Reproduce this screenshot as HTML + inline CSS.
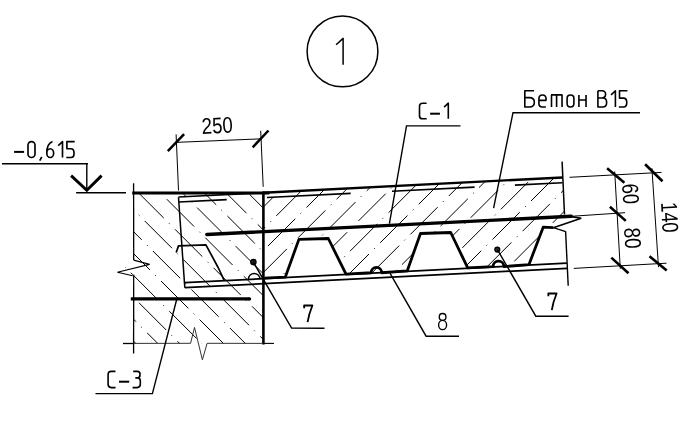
<!DOCTYPE html>
<html><head><meta charset="utf-8"><style>
html,body{margin:0;padding:0;background:#fff;width:697px;height:424px;overflow:hidden}
svg{display:block;will-change:transform}
text{font-family:"Liberation Sans",sans-serif}
</style></head><body>
<svg width="697" height="424" viewBox="0 0 697 424">
<defs><clipPath id="cw"><polygon points="133.6,193 263.4,193 263.4,343.4 133.6,343.4 133.6,275 117,272 133.6,262"/></clipPath><clipPath id="cs"><polygon points="263.40,192.70 563.00,177.45 564.20,214.50 581.00,218.20 553.30,227.70 543.20,227.20 528.90,263.50 467.40,267.40 450.70,232.50 420.50,233.50 407.20,270.20 346.00,274.20 328.30,238.50 298.90,239.40 285.30,276.20 263.40,277.50"/></clipPath></defs>
<rect width="697" height="424" fill="#fff"/>
<g clip-path="url(#cw)" stroke="#000" stroke-width="1.0" stroke-dasharray="38.61 7.42 1.0 7.42"><line x1="109.40" y1="-11.50" x2="417.40" y2="296.50"/><line x1="79.10" y1="-19.90" x2="387.10" y2="288.10"/><line x1="87.30" y1="10.20" x2="395.30" y2="318.20"/><line x1="95.50" y1="40.30" x2="403.50" y2="348.30"/><line x1="103.70" y1="70.40" x2="411.70" y2="378.40"/><line x1="111.90" y1="100.50" x2="419.90" y2="408.50"/><line x1="81.60" y1="92.10" x2="389.60" y2="400.10"/><line x1="89.80" y1="122.20" x2="397.80" y2="430.20"/><line x1="98.00" y1="152.30" x2="406.00" y2="460.30"/><line x1="106.20" y1="182.40" x2="414.20" y2="490.40"/><line x1="114.40" y1="212.50" x2="422.40" y2="520.50"/><line x1="84.10" y1="204.10" x2="392.10" y2="512.10"/><line x1="92.30" y1="234.20" x2="400.30" y2="542.20"/><line x1="100.50" y1="264.30" x2="408.50" y2="572.30"/><line x1="108.70" y1="294.40" x2="416.70" y2="602.40"/><line x1="78.40" y1="286.00" x2="386.40" y2="594.00"/><line x1="86.60" y1="316.10" x2="394.60" y2="624.10"/><line x1="94.80" y1="346.20" x2="402.80" y2="654.20"/></g>
<g clip-path="url(#cs)" stroke="#000" stroke-width="1.0" stroke-dasharray="38.61 7.42 1.0 7.42"><line x1="224.35" y1="202.45" x2="686.35" y2="-259.55"/><line x1="216.00" y1="232.60" x2="678.00" y2="-229.40"/><line x1="207.65" y1="262.75" x2="669.65" y2="-199.25"/><line x1="199.30" y1="292.90" x2="661.30" y2="-169.10"/><line x1="229.45" y1="284.55" x2="691.45" y2="-177.45"/><line x1="221.10" y1="314.70" x2="683.10" y2="-147.30"/><line x1="212.75" y1="344.85" x2="674.75" y2="-117.15"/><line x1="204.40" y1="375.00" x2="666.40" y2="-87.00"/><line x1="196.05" y1="405.15" x2="658.05" y2="-56.85"/><line x1="226.20" y1="396.80" x2="688.20" y2="-65.20"/><line x1="217.85" y1="426.95" x2="679.85" y2="-35.05"/><line x1="209.50" y1="457.10" x2="671.50" y2="-4.90"/><line x1="201.15" y1="487.25" x2="663.15" y2="25.25"/><line x1="192.80" y1="517.40" x2="654.80" y2="55.40"/><line x1="222.95" y1="509.05" x2="684.95" y2="47.05"/><line x1="214.60" y1="539.20" x2="676.60" y2="77.20"/><line x1="206.25" y1="569.35" x2="668.25" y2="107.35"/><line x1="197.90" y1="599.50" x2="659.90" y2="137.50"/><line x1="228.05" y1="591.15" x2="690.05" y2="129.15"/><line x1="219.70" y1="621.30" x2="681.70" y2="159.30"/></g>
<g stroke="#000" fill="none" stroke-linecap="butt">
<circle cx="342.5" cy="51.4" r="35.4" fill="none" stroke-width="1.5"/>
<polyline points="336.10,44.80 343.10,38.40 343.10,64.80" stroke-width="1.5" fill="none" stroke-linejoin="round"/>
<line x1="2.00" y1="163.70" x2="88.00" y2="163.70" stroke-width="1.6" />
<line x1="86.80" y1="163.70" x2="86.80" y2="190.50" stroke-width="1.4" />
<polyline points="71.10,175.60 86.80,190.20 101.60,175.60" stroke-width="2.9" fill="none" />
<line x1="76.10" y1="192.80" x2="126.00" y2="192.80" stroke-width="1.6" />
<line x1="175.60" y1="142.40" x2="262.00" y2="138.80" stroke-width="1.0" />
<line x1="176.10" y1="134.40" x2="178.50" y2="190.50" stroke-width="1.0" />
<line x1="260.70" y1="130.70" x2="263.20" y2="186.80" stroke-width="1.0" />
<line x1="167.80" y1="151.20" x2="184.10" y2="134.20" stroke-width="2.5" />
<line x1="252.70" y1="147.30" x2="268.50" y2="130.50" stroke-width="2.5" />
<line x1="132.20" y1="193.00" x2="269.50" y2="193.00" stroke-width="3.2" />
<line x1="133.60" y1="183.20" x2="133.70" y2="260.10" stroke-width="1.3" />
<polyline points="133.70,260.10 149.60,264.40 117.40,272.30 132.70,275.70" stroke-width="1.1" fill="none" />
<line x1="133.70" y1="274.80" x2="133.60" y2="353.60" stroke-width="1.3" />
<line x1="263.40" y1="191.50" x2="263.40" y2="344.50" stroke-width="2.6" />
<line x1="123.00" y1="343.50" x2="133.60" y2="343.50" stroke-width="1.3" />
<polyline points="133.60,343.40 190.60,343.30 194.50,327.40 202.40,359.80 207.10,343.30 263.00,343.40" stroke-width="1.0" fill="none" stroke="#333"/>
<line x1="263.00" y1="343.40" x2="274.00" y2="343.40" stroke-width="1.1" />
<line x1="130.80" y1="298.90" x2="249.50" y2="298.90" stroke-width="3.4" />
<circle cx="249.5" cy="298.9" r="1.7" fill="#000" stroke="none"/>
<line x1="178.50" y1="197.02" x2="263.40" y2="192.70" stroke-width="1.6" />
<line x1="178.50" y1="197.20" x2="184.80" y2="287.70" stroke-width="1.5" />
<line x1="179.00" y1="201.99" x2="226.70" y2="199.59" stroke-width="1.6" />
<line x1="266.90" y1="197.56" x2="350.70" y2="193.35" stroke-width="1.6" />
<line x1="392.00" y1="191.27" x2="474.60" y2="187.12" stroke-width="1.6" />
<line x1="514.90" y1="185.09" x2="562.40" y2="182.70" stroke-width="1.6" />
<polyline points="176.20,252.50 178.50,245.90 205.90,244.80 218.40,268.00 224.30,280.67" stroke-width="1.7" fill="none" stroke-linejoin="round"/>
<path d="M248.50,279.14 a5.7,5.7 0 0 1 11.4,0" stroke-width="1.4" fill="none" />
<circle cx="253.4" cy="262.1" r="2.6" fill="#222" stroke="#000" stroke-width="1.4"/>
<line x1="263.40" y1="192.70" x2="562.50" y2="177.48" stroke-width="2.4" />
<line x1="562.10" y1="161.60" x2="564.50" y2="214.50" stroke-width="1.5" />
<line x1="206.80" y1="234.50" x2="571.30" y2="216.28" stroke-width="3.4" stroke-linecap="round"/>
<line x1="184.80" y1="282.69" x2="566.80" y2="263.17" stroke-width="1.7" />
<line x1="184.80" y1="287.70" x2="567.00" y2="268.29" stroke-width="1.7" />
<line x1="565.60" y1="231.40" x2="568.20" y2="285.70" stroke-width="1.4" />
<polyline points="571.30,216.60 581.20,218.20 553.30,227.70" stroke-width="1.6" fill="none" />
<line x1="553.30" y1="227.70" x2="565.70" y2="231.60" stroke-width="1.4" />
<path d="M264.40,278.22 L285.30,277.15 L298.90,239.40 L328.30,238.50 L346.00,274.05 L371.10,272.77 a5.3,5.3 0 0 1 10.6,0 L407.20,270.92 L420.50,233.50 L450.70,232.50 L467.70,267.83 L493.10,266.53 a5.4,5.4 0 0 1 10.8,0 L528.90,264.70 L543.20,227.20 L553.30,227.70" stroke-width="2.8" fill="none" stroke-linejoin="round"/>
<circle cx="497.3" cy="249.6" r="2.4" fill="#333" stroke="#000" stroke-width="1.4"/>
<polyline points="460.50,125.90 406.50,125.90 389.40,223.70" stroke-width="1.4" fill="none" />
<polyline points="640.00,112.70 513.00,112.70 493.60,208.20" stroke-width="1.4" fill="none" />
<polyline points="253.40,262.20 291.60,328.10 324.50,328.30" stroke-width="1.4" fill="none" />
<polyline points="390.10,273.40 426.10,336.20 459.00,336.20" stroke-width="1.4" fill="none" />
<polyline points="497.40,249.60 535.80,316.20 568.60,316.20" stroke-width="1.4" fill="none" />
<polyline points="176.80,299.00 152.40,393.60 95.50,393.60" stroke-width="1.4" fill="none" />
<line x1="569.50" y1="177.30" x2="661.50" y2="172.40" stroke-width="1.0" />
<line x1="571.30" y1="216.30" x2="625.00" y2="212.70" stroke-width="1.0" />
<line x1="573.80" y1="268.40" x2="666.50" y2="263.20" stroke-width="1.0" />
<line x1="614.70" y1="171.50" x2="620.30" y2="268.80" stroke-width="1.0" />
<line x1="651.90" y1="168.20" x2="658.50" y2="267.20" stroke-width="1.0" />
<line x1="607.10" y1="168.30" x2="624.40" y2="182.80" stroke-width="2.6" />
<line x1="609.90" y1="206.70" x2="625.80" y2="220.90" stroke-width="2.6" />
<line x1="611.30" y1="257.60" x2="628.50" y2="273.20" stroke-width="2.6" />
<line x1="645.10" y1="164.20" x2="662.50" y2="181.20" stroke-width="2.6" />
<line x1="649.50" y1="256.20" x2="666.70" y2="270.50" stroke-width="2.6" />
</g>
<g fill="#000">
<text x="202" y="134.1" font-size="22.6" font-family="Liberation Sans" textLength="31.2" lengthAdjust="spacingAndGlyphs" transform="rotate(-2.9 202 134.1)" opacity="0.999">250</text>
<text x="622.1" y="184.1" font-size="23" font-family="Liberation Sans" textLength="20.5" lengthAdjust="spacingAndGlyphs" transform="rotate(87 622.1 184.1)" opacity="0.999">60</text>
<text x="624.1" y="227.9" font-size="23" font-family="Liberation Sans" textLength="21" lengthAdjust="spacingAndGlyphs" transform="rotate(87 624.1 227.9)" opacity="0.999">80</text>
<text x="660.9" y="202.5" font-size="23" font-family="Liberation Sans" textLength="30.5" lengthAdjust="spacingAndGlyphs" transform="rotate(87 660.9 202.5)" opacity="0.999">140</text>
</g>
<g stroke="#000" fill="none" stroke-linejoin="round"><g role="img" aria-label="–0,615">
<path d="M0,0 H6.3" transform="translate(14.10,151.90) scale(1.59)" stroke-width="1.258" fill="none"/>
<path d="M0,2.2 A2.2,2.2 0 0 1 4.4,2.2 V7.8 A2.2,2.2 0 0 1 0,7.8 Z" transform="translate(28.00,141.60) scale(1.59)" stroke-width="1.038" fill="none"/>
<path d="M1.3,0 L0,2.3" transform="translate(39.70,157.00) scale(1.59)" stroke-width="1.038" fill="none"/>
<path d="M3.6,0 C1.5,0.8 0,3 0,7.2 M0,7.25 A2.15,2.75 0 0 0 4.3,7.25 A2.15,2.75 0 0 0 0,7.25" transform="translate(46.80,141.60) scale(1.59)" stroke-width="1.038" fill="none"/>
<path d="M-2.7,2.5 L0,0 V10" transform="translate(62.50,141.60) scale(1.59)" stroke-width="1.038" fill="none"/>
<path d="M4.9,0 H0 V4.5 H2.5 Q4.5,4.5 4.5,7.25 Q4.5,10 2.5,10 H-0.4" transform="translate(66.90,141.60) scale(1.59)" stroke-width="1.038" fill="none"/>
</g>
<g role="img" aria-label="С–1">
<path d="M4.55,0 H2 Q0,0 0,2 V8 Q0,10 2,10 H4.6" transform="translate(419.50,103.20) scale(1.56)" stroke-width="1.026" fill="none"/>
<path d="M0,0 H6.3" transform="translate(430.10,113.70) scale(1.56)" stroke-width="1.282" fill="none"/>
<path d="M-2.7,2.5 L0,0 V10" transform="translate(448.30,103.20) scale(1.56)" stroke-width="1.026" fill="none"/>
</g>
<g role="img" aria-label="С–3">
<path d="M4.55,0 H2 Q0,0 0,2 V8 Q0,10 2,10 H4.6" transform="translate(108.10,371.40) scale(1.62)" stroke-width="0.988" fill="none"/>
<path d="M0,0 H6.3" transform="translate(119.00,381.70) scale(1.62)" stroke-width="1.235" fill="none"/>
<path d="M0,0 H2.6 Q4.2,0 4.2,1.8 V2.2 Q4.2,4.0 2.6,4.0 H1.3 M2.6,4.0 Q4.4,4.0 4.4,6 V8 Q4.4,10 2.4,10 H-0.4" transform="translate(133.20,371.40) scale(1.62)" stroke-width="0.988" fill="none"/>
</g>
<g role="img" aria-label="БетонВ15">
<path d="M5.7,0 H0 V10 H2.8 Q5.9,10 5.9,7.1 Q5.9,4.2 2.8,4.2 H0" transform="translate(524.80,90.80) scale(1.62)" stroke-width="0.988" fill="none"/>
<path d="M0,5.9 H4.4 V4.9 Q4.4,2.6 2.2,2.6 Q0,2.6 0,4.9 V7.8 Q0,10 2.2,10 H4.3" transform="translate(538.90,90.80) scale(1.62)" stroke-width="0.988" fill="none"/>
<path d="M0,2.6 V10 M3.15,2.6 V10 M6.5,2.6 V10 M-0.3,2.5 H6.8" transform="translate(551.50,90.80) scale(1.62)" stroke-width="0.988" fill="none"/>
<path d="M0,4.7 Q0,2.6 2.1,2.6 Q4.2,2.6 4.2,4.7 V7.9 Q4.2,10 2.1,10 Q0,10 0,7.9 Z" transform="translate(567.10,90.80) scale(1.62)" stroke-width="0.988" fill="none"/>
<path d="M0,2.6 V10 M4.4,2.6 V10 M0,5.7 H4.4" transform="translate(578.90,90.80) scale(1.62)" stroke-width="0.988" fill="none"/>
<path d="M0,0 V10 H3 Q5.4,10 5.4,7.2 Q5.4,4.4 3,4.4 H0 M0,0 H2.6 Q4.75,0 4.75,2.2 Q4.75,4.4 2.6,4.4" transform="translate(597.90,90.80) scale(1.62)" stroke-width="0.988" fill="none"/>
<path d="M-2.7,2.5 L0,0 V10" transform="translate(615.40,90.80) scale(1.62)" stroke-width="0.988" fill="none"/>
<path d="M4.9,0 H0 V4.5 H2.5 Q4.5,4.5 4.5,7.25 Q4.5,10 2.5,10 H-0.4" transform="translate(619.50,90.80) scale(1.62)" stroke-width="0.988" fill="none"/>
</g>
<path aria-label="7" d="M304.20,308.20 L304.10,305.50 H312.40 C310.30,310.50 308.60,315.50 307.60,322.20" stroke-width="1.8"/>
<path aria-label="7" d="M548.40,296.20 L548.30,293.50 H556.60 C554.50,298.50 552.80,303.50 551.80,310.20" stroke-width="1.8"/>
<g role="img" aria-label="8">
<ellipse cx="442.6" cy="316.9" rx="3.35" ry="3.4" stroke-width="1.35"/>
<ellipse cx="442.6" cy="324.95" rx="4.0" ry="4.6" stroke-width="1.35"/></g></g>
</svg>
</body></html>
